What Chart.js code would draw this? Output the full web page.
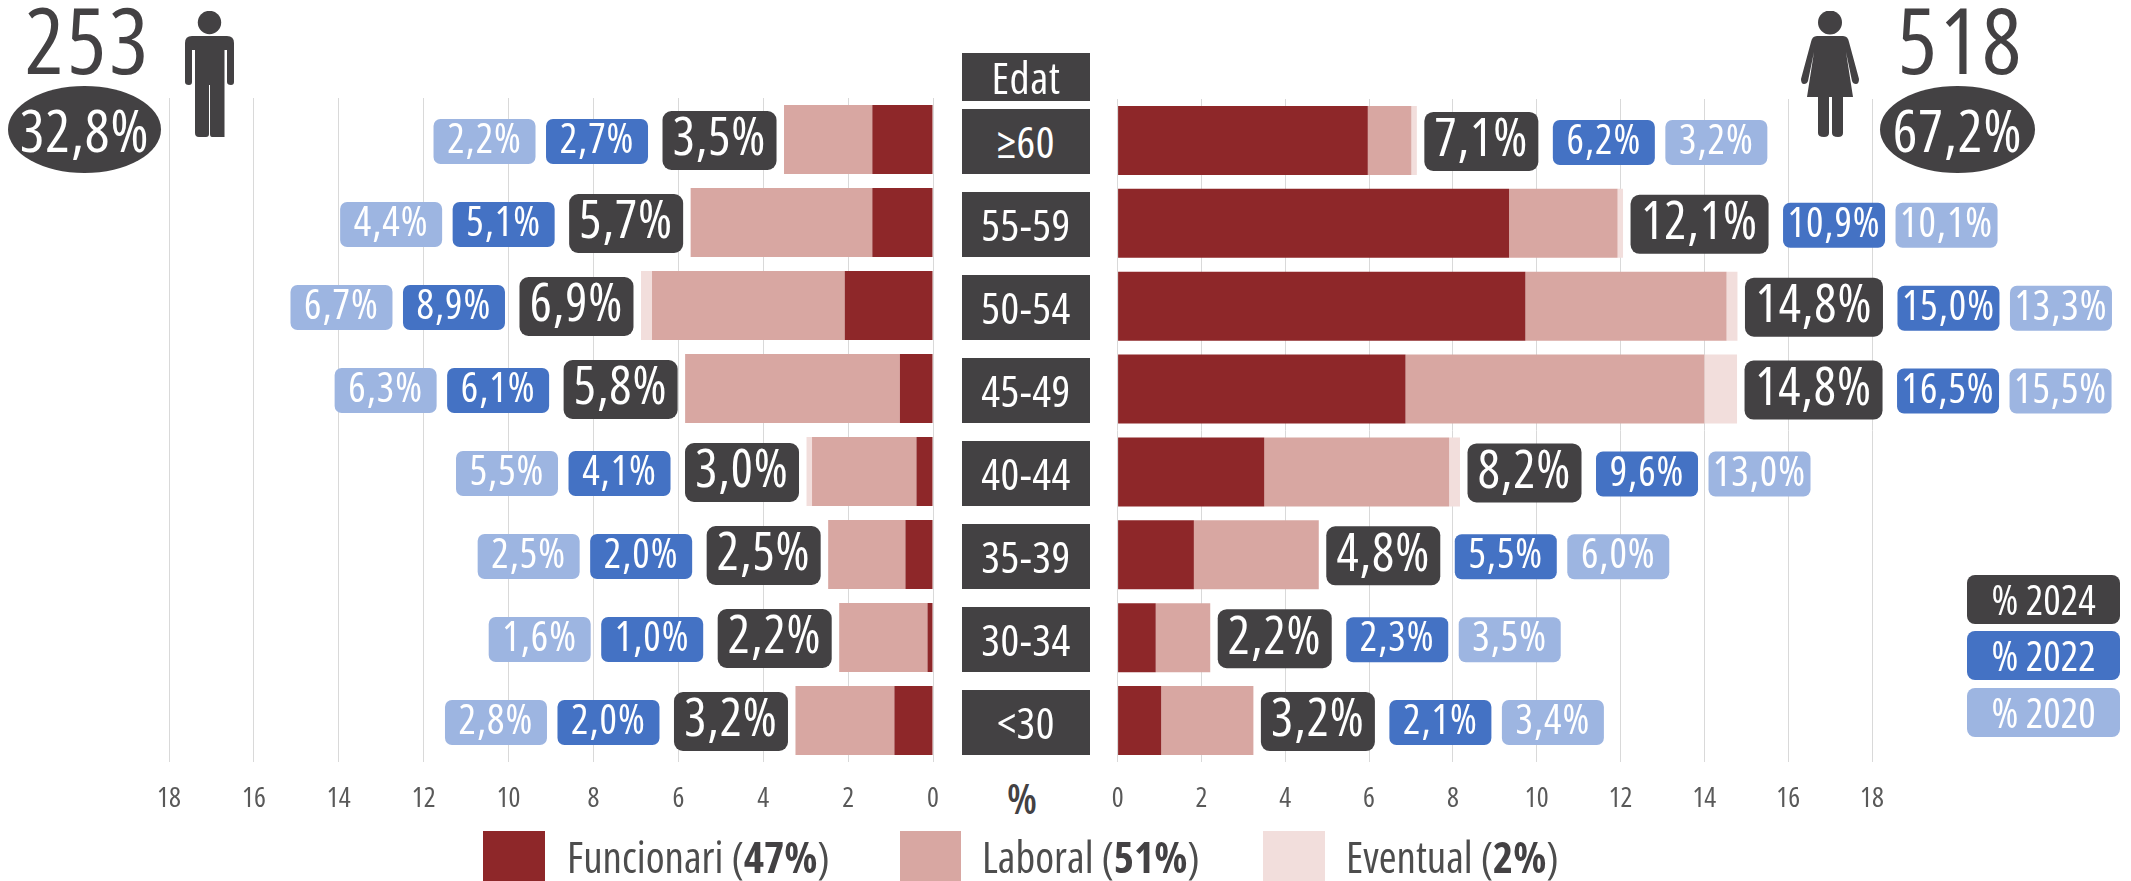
<!DOCTYPE html>
<html lang="ca">
<head>
<meta charset="utf-8">
<title>Edat i sexe</title>
<script src="https://cdn.jsdelivr.net/npm/chart.js@4"></script>
<style>
  html, body { margin: 0; background: #fff; }
  body { position: relative; width: 2131px; height: 881px; overflow: hidden;
         font-family: "Open Sans", sans-serif; font-stretch: condensed; color: #434143; }
  canvas { position: absolute; top: 0; }
  #menChart { left: 0; }
  #womenChart { left: 1080px; }
  .abs { position: absolute; text-align: center; white-space: nowrap; }
  .count { font-size: 92px; letter-spacing: 3px; line-height: 90px; top: -6px; width: 160px; font-weight: 500; }
  .share { background: #434143; color: #fff; border-radius: 50%; top: 86px; height: 87px;
           font-size: 58px; letter-spacing: 1px; line-height: 87px; }
  .age { left: 962px; width: 128px; height: 65px; line-height: 65px; background: #434143;
         color: #fff; font-size: 44px; letter-spacing: 0.5px; }
  .unit { left: 992px; width: 60px; top: 774px; font-size: 42px; line-height: 48px; font-weight: 600; }
  .year { left: 1967px; width: 153px; height: 49px; line-height: 49px; border-radius: 8px;
          color: #fff; font-size: 41px; font-weight: 500; }
  .swatch { top: 831px; height: 50px; }
  .legend { top: 832px; font-size: 43px; line-height: 50px; color: #4d4d4d; text-align: left; }
  .legend b { color: #434143; }
  svg { position: absolute; top: 11px; fill: #434143; }
</style>
</head>
<body>
<canvas id="menChart" width="970" height="830"></canvas>
<canvas id="womenChart" width="1051" height="830"></canvas>

<div class="abs count" style="left:8px">253</div>
<div class="abs share" style="left:8px;width:153px">32,8%</div>
<svg style="left:185px" width="49" height="126" viewBox="0 0 49 126">
  <circle cx="24.5" cy="11.5" r="11.7"/>
  <path d="M7 25 H42 Q49 25 49 32 V71 Q49 74 46 74 Q42 74 42 71 V39 H39.5 V126 H27 Q25 126 25 123 V74 H24 V123 Q24 126 21 126 H14 Q10 126 10 122 V39 H7 V71 Q7 74 4 74 Q0 74 0 71 V32 Q0 25 7 25 Z"/>
</svg>

<div class="abs count" style="left:1881px">518</div>
<div class="abs share" style="left:1880px;width:155px">67,2%</div>
<svg style="left:1801px" width="58" height="126" viewBox="0 0 58 126">
  <circle cx="29" cy="11.5" r="12"/>
  <path d="M16 25 H42 Q47 25 48 31 L58 68 Q58 73 55 73 Q52 73 51 70 L45 41 L52 86 H42 V122 Q42 126 37 126 Q31 126 31 122 V86 H28 V122 Q28 126 23 126 Q17 126 17 122 V86 H6 L13 41 L7 70 Q6 73 3 73 Q0 73 0 68 L10 31 Q11 25 16 25 Z"/>
</svg>

<div class="abs age" style="top:53px;height:48px;line-height:48px;font-size:44px">Edat</div>
<div class="abs unit">%</div>

<div class="abs year" style="top:575px;background:#434143">% 2024</div>
<div class="abs year" style="top:631px;background:#4472c4">% 2022</div>
<div class="abs year" style="top:688px;background:#9db5e1">% 2020</div>

<div class="abs swatch" style="left:483px;width:62px;background:#8e2729"></div>
<div class="abs legend" style="left:567px">Funcionari (<b>47%</b>)</div>
<div class="abs swatch" style="left:900px;width:61px;background:#d8a7a2"></div>
<div class="abs legend" style="left:982px">Laboral (<b>51%</b>)</div>
<div class="abs swatch" style="left:1263px;width:62px;background:#f2dedc"></div>
<div class="abs legend" style="left:1346px">Eventual (<b>2%</b>)</div>

<script>
// Age groups, top row first
const ageGroups = ["≥60", "55-59", "50-54", "45-49", "40-44", "35-39", "30-34", "<30"];

// Stacked bars, % of all staff
const menFuncionari = [1.43, 1.43, 2.08, 0.78, 0.39, 0.65, 0.13, 0.91];
const menLaboral = [2.08, 4.28, 4.54, 5.06, 2.46, 1.82, 2.08, 2.33];
const menEventual = [0, 0, 0.26, 0, 0.13, 0, 0, 0];
const womenFuncionari = [5.97, 9.34, 9.73, 6.87, 3.5, 1.82, 0.91, 1.04];
const womenLaboral = [1.04, 2.59, 4.8, 7.13, 4.41, 2.98, 1.3, 2.2];
const womenEventual = [0.13, 0.13, 0.26, 0.78, 0.26, 0, 0, 0];

// Labels next to the bars
const men2024 = [3.5, 5.7, 6.9, 5.8, 3.0, 2.5, 2.2, 3.2];
const men2022 = [2.7, 5.1, 8.9, 6.1, 4.1, 2.0, 1.0, 2.0];
const men2020 = [2.2, 4.4, 6.7, 6.3, 5.5, 2.5, 1.6, 2.8];
const women2024 = [7.1, 12.1, 14.8, 14.8, 8.2, 4.8, 2.2, 3.2];
const women2022 = [6.2, 10.9, 15.0, 16.5, 9.6, 5.5, 2.3, 2.1];
const women2020 = [3.2, 10.1, 13.3, 15.5, 13.0, 6.0, 3.5, 3.4];

const FONT = '"Open Sans", sans-serif';

function pct(v) {
  return v.toFixed(1).replace(".", ",") + "%";
}

function roundedBadge(ctx, x, cy, w, h, r, color, text, fontSize) {
  ctx.fillStyle = color;
  ctx.beginPath();
  ctx.roundRect(x, cy - h / 2, w, h, r);
  ctx.fill();
  ctx.fillStyle = "#fff";
  ctx.font = "500 condensed " + fontSize + "px " + FONT;
  ctx.letterSpacing = "1px";
  ctx.textAlign = "center";
  ctx.textBaseline = "middle";
  ctx.fillText(text, x + w / 2, cy);
}

// Draws the three % badges after the end of each bar
function badgePlugin(dir, latest, mid, old) {
  return {
    id: "badges",
    afterDatasetsDraw(chart) {
      const ctx = chart.ctx;
      const xs = chart.scales.x;
      const ys = chart.scales.y;
      ctx.save();
      ageGroups.forEach((age, i) => {
        let total = 0;
        chart.data.datasets.forEach(d => { total += d.data[i]; });
        const cy = ys.getPixelForValue(i) + 1;
        let edge = xs.getPixelForValue(total) + dir * 7.5;

        const w = latest[i] >= 10 ? 138 : 114;
        roundedBadge(ctx, dir > 0 ? edge : edge - w, cy, w, 59, 9, "#434143", pct(latest[i]), 52);
        edge += dir * (w + 14.5);

        roundedBadge(ctx, dir > 0 ? edge : edge - 102, cy + 1, 102, 45, 7, "#4472c4", pct(mid[i]), 41);
        edge += dir * (102 + 10.5);

        roundedBadge(ctx, dir > 0 ? edge : edge - 102, cy + 1, 102, 45, 7, "#9db5e1", pct(old[i]), 41);
      });
      ctx.restore();
    }
  };
}

function pyramidChart(id, funcionari, laboral, eventual, reverse, padding, plugin) {
  return new Chart(document.getElementById(id), {
    type: "bar",
    data: {
      labels: ageGroups,
      datasets: [
        { label: "Funcionari", data: funcionari, backgroundColor: "#8e2729" },
        { label: "Laboral", data: laboral, backgroundColor: "#d8a7a2" },
        { label: "Eventual", data: eventual, backgroundColor: "#f2dedc" }
      ]
    },
    options: {
      indexAxis: "y",
      responsive: false,
      animation: false,
      layout: { padding: padding },
      datasets: { bar: { categoryPercentage: 1, barPercentage: 0.832 } },
      plugins: { legend: { display: false }, tooltip: { enabled: false } },
      scales: {
        x: {
          stacked: true,
          reverse: reverse,
          min: 0,
          max: 18,
          afterFit(axis) { axis.height = 68; },
          grid: { color: "#d9d9d9", drawTicks: false },
          border: { display: false },
          ticks: {
            stepSize: 2,
            padding: 20,
            maxRotation: 0,
            color: "#595959",
            // weight goes straight into the canvas font string, this gets the condensed cut
            font: { family: FONT, size: 28, weight: "condensed" }
          }
        },
        y: { stacked: true, display: false }
      }
    },
    plugins: [plugin]
  });
}

const menChart = pyramidChart("menChart", menFuncionari, menLaboral, menEventual, true,
  { left: 169, right: 37, top: 98 }, badgePlugin(-1, men2024, men2022, men2020));
pyramidChart("womenChart", womenFuncionari, womenLaboral, womenEventual, false,
  { left: 37.6, right: 259, top: 99 }, badgePlugin(1, women2024, women2022, women2020));

// Age column between the two halves, lined up with the left chart's rows
ageGroups.forEach((age, i) => {
  const box = document.createElement("div");
  box.className = "abs age";
  box.textContent = age;
  box.style.top = (menChart.scales.y.getPixelForValue(i) - 31) + "px";
  document.body.appendChild(box);
});
</script>
</body>
</html>
